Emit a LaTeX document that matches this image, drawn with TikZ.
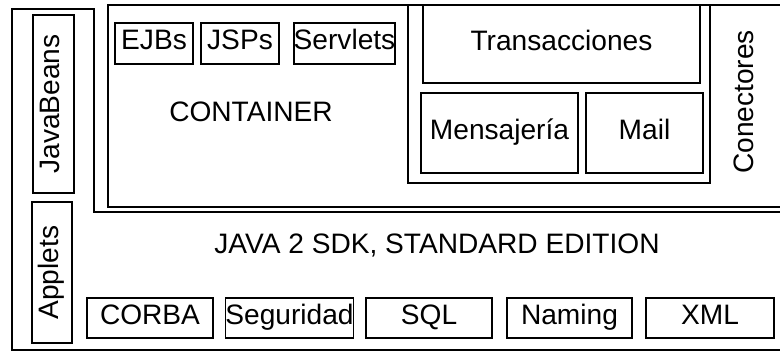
\documentclass[tikz,border=0pt]{standalone}
\usepackage{fontspec}
\setmainfont{Liberation Sans}
\tikzset{
  blk/.style={draw, line width=1pt, inner sep=0pt, text height=0.72em, text depth=0pt,
    font=\fontsize{16}{19}\selectfont},
  lbl/.style={inner sep=0pt, text height=0.72em, text depth=0pt, font=\fontsize{16}{19}\selectfont},
  frame/.style={line width=1pt}
}
\begin{document}
\begin{tikzpicture}[x=0.2mm, y=-0.2mm]
      \useasboundingbox (0,0) rectangle (780,352);
      % outer frames
      \draw[frame] (12,9) -- (94,9) -- (94,212) -- (800,212) -- (800,350) -- (12,350) -- cycle;
      \draw[frame] (108,5) rectangle (800,207);
      \draw[frame] (408,5) rectangle (710,183);
      % left column
      \node[blk, rotate=90, minimum width=35.6mm, minimum height=8.2mm] (beans) at (53.5,104) {JavaBeans};
      \node[blk, rotate=90, minimum width=28.2mm, minimum height=8mm] (applets) at (52,272.5) {Applets};
      % container
      \node[blk, minimum width=15.6mm, minimum height=8.2mm] (ejb) at (154,43.5) {EJBs};
      \node[blk, minimum width=15.6mm, minimum height=8.2mm] (jsp) at (240,43.5) {JSPs};
      \node[blk, minimum width=19.8mm, minimum height=8.2mm] (servlet) at (344.5,43.5) {Servlets};
      \node[lbl] (cont) at (251,115) {CONTAINER};
      \node[blk, minimum width=55.4mm, minimum height=15.6mm] (trans) at (561.5,44) {Transacciones};
      \node[blk, minimum width=31.4mm, minimum height=16mm] (mens) at (499.5,133) {Mensajería};
      \node[blk, minimum width=23.4mm, minimum height=16mm] (mail) at (644.5,133) {Mail};
      \node[lbl, rotate=90] (conect) at (747,102) {Conectores};
      % sdk
      \node[lbl] (sdk) at (437,247) {JAVA 2 SDK, STANDARD EDITION};
      \node[blk, minimum width=25.2mm, minimum height=8mm] (corba) at (150,318) {CORBA};
      \node[blk, minimum width=25.4mm, minimum height=8mm] (seg) at (289.5,318) {Seguridad};
      \node[blk, minimum width=25.2mm, minimum height=8mm] (sql) at (429,318) {SQL};
      \node[blk, minimum width=25mm, minimum height=8mm] (naming) at (569.5,318) {Naming};
      \node[blk, minimum width=25.6mm, minimum height=8mm] (xml) at (710,318) {XML};
    \end{tikzpicture}
\end{document}
